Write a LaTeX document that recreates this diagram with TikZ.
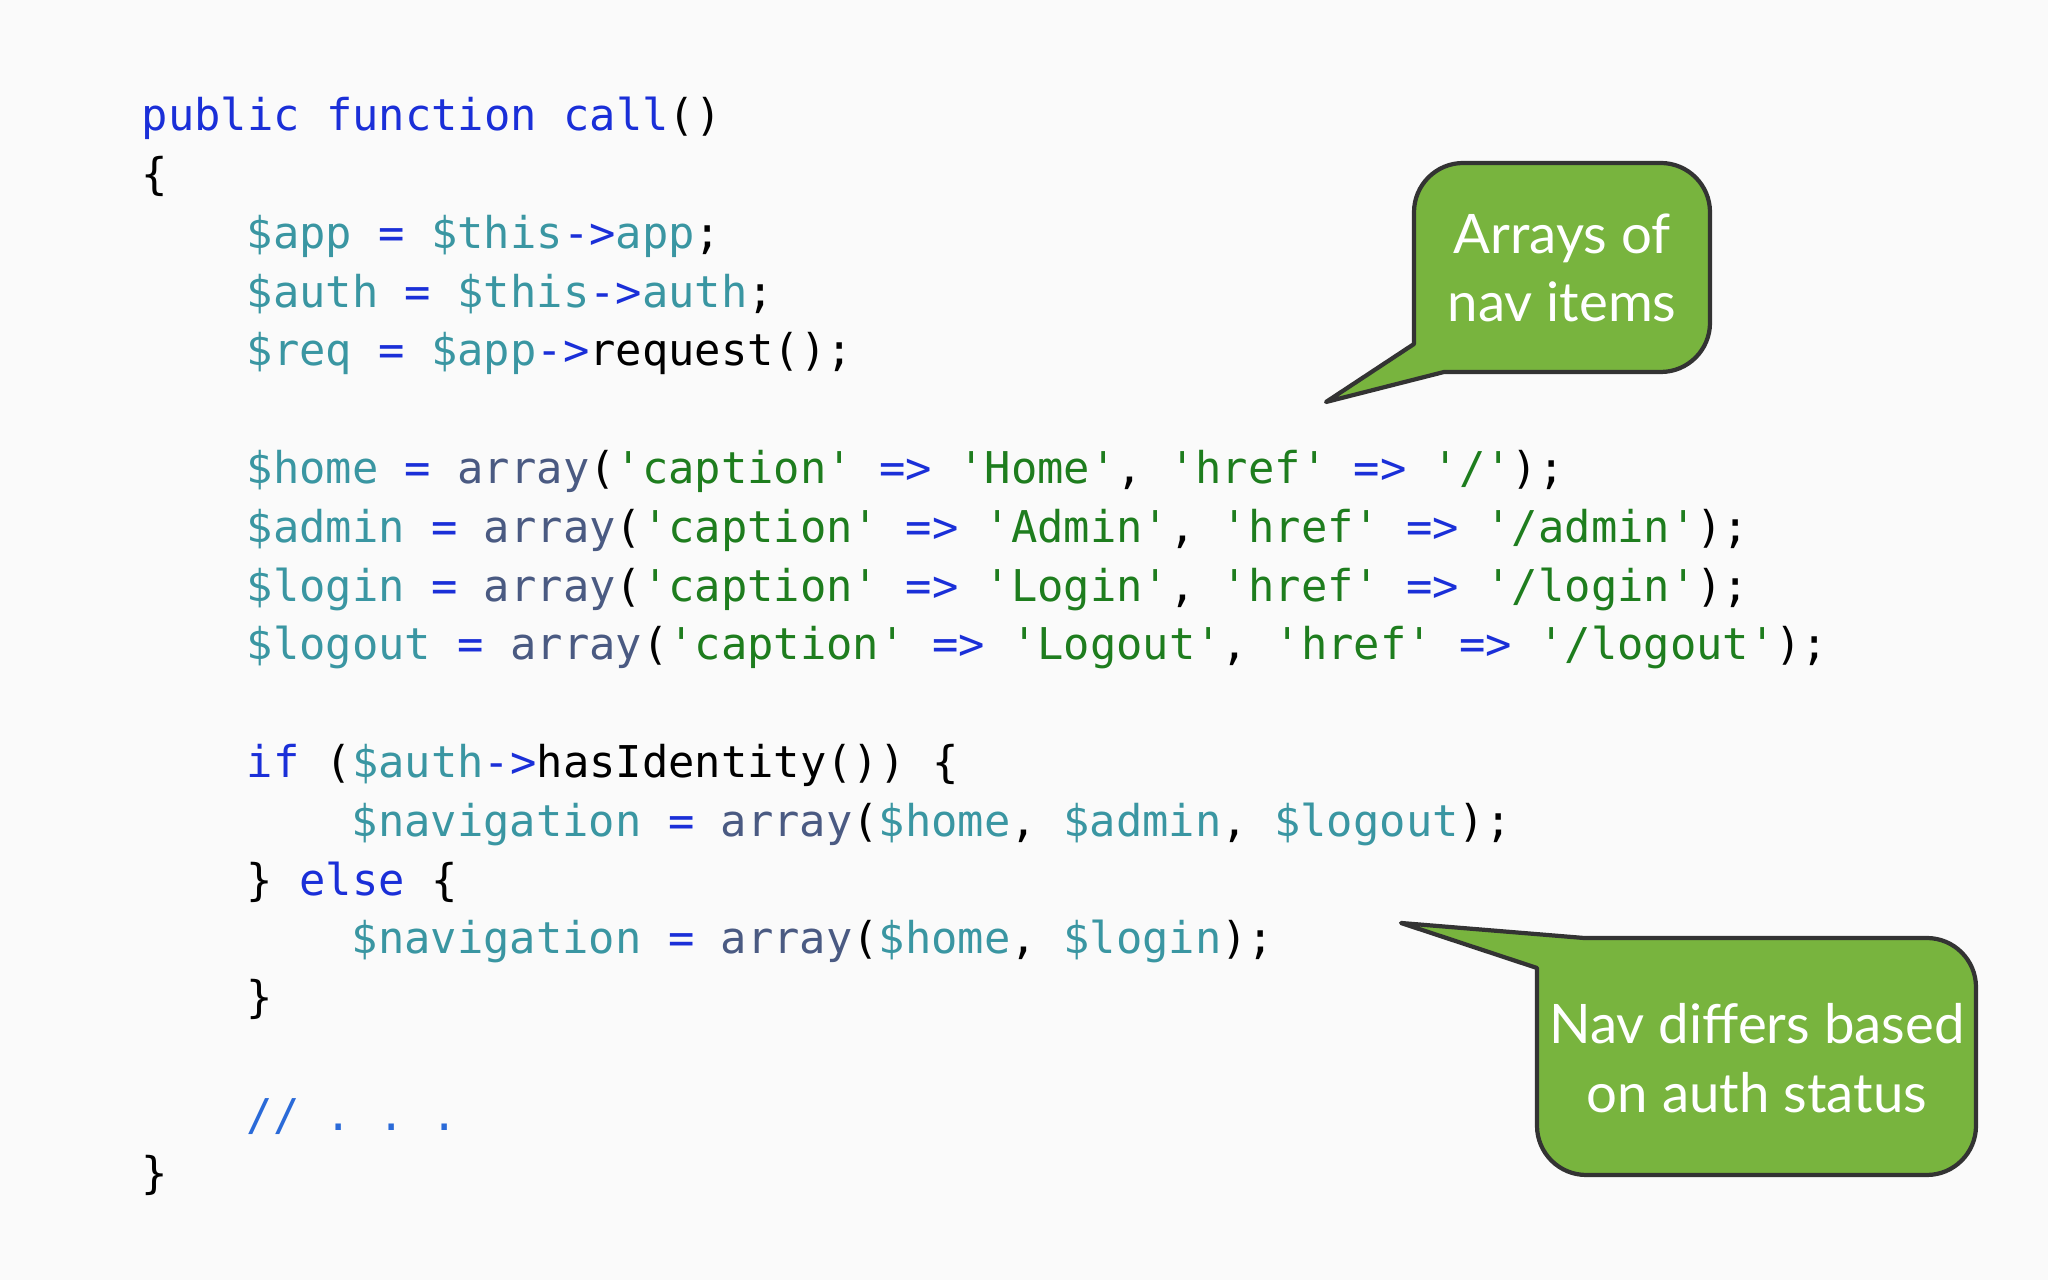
\documentclass[tikz,border=0pt]{standalone}
\usepackage{fontspec}
\setmonofont{DejaVu Sans Mono}
\newfontfamily\callfont{Lato}
\definecolor{cv}{HTML}{3A96A2}
\definecolor{ck}{HTML}{1A2FD8}
\definecolor{ca}{HTML}{4A5A82}
\definecolor{cs}{HTML}{1E7D1E}
\definecolor{cc}{HTML}{2A6AD8}
\definecolor{cg}{HTML}{78B43E}
\newcommand\Vv[1]{\textcolor{cv}{\$#1}}
\newcommand\Kk[1]{\textcolor{ck}{#1}}
\newcommand\Aa{\textcolor{ca}{array}}
\newcommand\qq{\char39\relax}
\newcommand\Ss[1]{\textcolor{cs}{\qq#1\qq}}
\newcommand\Ar{\textcolor{ck}{->}}
\newcommand\Fa{\textcolor{ck}{=>}}
\newcommand\Eq{\textcolor{ck}{=}}
\begin{document}
\begin{tikzpicture}[x=0.01cm,y=-0.01cm,
  code/.style={anchor=base west,inner sep=0pt,font=\ttfamily\fontsize{12.45}{15}\selectfont},
  callout/.style={fill=cg,draw=black!80,line width=1.2pt,line join=round},
  ctext/.style={align=center,text=white,font=\callfont\fontsize{15.5}{19.5}\selectfont}]
\fill[white!98!black] (0,0) rectangle (2048,1280);
\def\L{141}
\def\I{246}
\def\J{351}
\node[code] (l0) at (\L,131) {\Kk{public function call}()};
\node[code] (l1) at (\L,190) {\{};
\node[code] (l2) at (\I,249) {\Vv{app} \Eq{} \Vv{this}\Ar\textcolor{cv}{app};};
\node[code] (l3) at (\I,308) {\Vv{auth} \Eq{} \Vv{this}\Ar\textcolor{cv}{auth};};
\node[code] (l4) at (\I,366) {\Vv{req} \Eq{} \Vv{app}\Ar request();};
\node[code] (l6) at (\I,484) {\Vv{home} \Eq{} \Aa(\Ss{caption} \Fa{} \Ss{Home}, \Ss{href} \Fa{} \Ss{/});};
\node[code] (l7) at (\I,543) {\Vv{admin} \Eq{} \Aa(\Ss{caption} \Fa{} \Ss{Admin}, \Ss{href} \Fa{} \Ss{/admin});};
\node[code] (l8) at (\I,602) {\Vv{login} \Eq{} \Aa(\Ss{caption} \Fa{} \Ss{Login}, \Ss{href} \Fa{} \Ss{/login});};
\node[code] (l9) at (\I,660) {\Vv{logout} \Eq{} \Aa(\Ss{caption} \Fa{} \Ss{Logout}, \Ss{href} \Fa{} \Ss{/logout});};
\node[code] (l11) at (\I,778) {\Kk{if} (\Vv{auth}\Ar hasIdentity()) \{};
\node[code] (l12) at (\J,837) {\Vv{navigation} \Eq{} \Aa(\Vv{home}, \Vv{admin}, \Vv{logout});};
\node[code] (l13) at (\I,896) {\} \Kk{else} \{};
\node[code] (l14) at (\J,954) {\Vv{navigation} \Eq{} \Aa(\Vv{home}, \Vv{login});};
\node[code] (l15) at (\I,1013) {\}};
\node[code] (l17) at (\I,1131) {\textcolor{cc}{// . . .}};
\node[code] (l18) at (\L,1189) {\}};
% callout 1
\coordinate (t1) at (1326,402);
\draw[callout] (1444,372) -- (t1) -- (1414,344) [rounded corners=14] -- (1414,163) -- (1710,163) -- (1710,372) -- (1430,372) [sharp corners] -- cycle;
\node[ctext] (c1) at (1562,268) {Arrays of\\nav items};
% callout 2
\coordinate (t2) at (1401,923);
\draw[callout] (1537,968) -- (t2) -- (1584,938) [rounded corners=14] -- (1976,938) -- (1976,1175) -- (1537,1175) -- (1537,950) [sharp corners] -- cycle;
\node[ctext] (c2) at (1757,1058) {Nav differs based\\on auth status};
\end{tikzpicture}
\end{document}
